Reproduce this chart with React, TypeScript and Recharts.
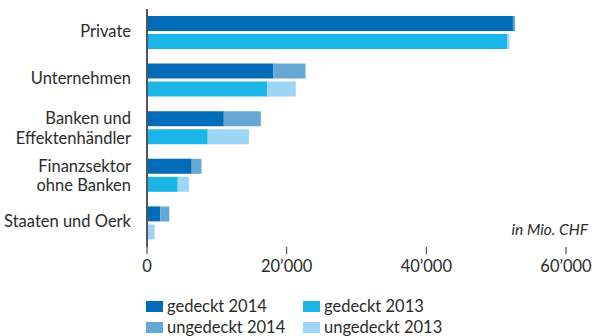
import React from "react";
import { BarChart, Bar, XAxis, YAxis } from "recharts";

const categories = [
  "Private",
  "Unternehmen",
  "Banken und\nEffektenhändler",
  "Finanzsektor\nohne Banken",
  "Staaten und Oerk",
];
const gedeckt2014 = [52400, 18100, 11000, 6400, 1900];
const ungedeckt2014 = [300, 4600, 5300, 1400, 1300];
const gedeckt2013 = [51600, 17200, 8700, 4400, 0];
const ungedeckt2013 = [300, 4100, 5900, 1600, 1100];
const xTicks = [0, 20000, 40000, 60000];

const COLORS = {
  g14: "#006cb7",
  u14: "#66a8d4",
  g13: "#1cb5e8",
  u13: "#9dd5f5",
};

const FONT = "Lato, 'Open Sans', sans-serif";
const TEXT = "#2b2b2b";

const legendItems = [
  { key: "g14", label: "gedeckt 2014" },
  { key: "g13", label: "gedeckt 2013" },
  { key: "u14", label: "ungedeckt 2014" },
  { key: "u13", label: "ungedeckt 2013" },
];

const data = categories.map((name, i) => ({
  name,
  g14: gedeckt2014[i],
  u14: ungedeckt2014[i],
  g13: gedeckt2013[i],
  u13: ungedeckt2013[i],
}));

const formatTick = (v: number) =>
  v === 0 ? "0" : `${Math.floor(v / 1000)}’${String(v % 1000).padStart(3, "0")}`;

const CategoryTick = (props: any) => {
  const { x, y, payload } = props;
  const lines: string[] = String(payload.value).split("\n");
  const lh = 19.5;
  const start = y - ((lines.length - 1) * lh) / 2 + (lines.length > 1 ? 0 : -2);
  return (
    <text
      x={x - 8}
      y={start}
      textAnchor="end"
      fontFamily={FONT}
      fontSize={16.5}
      fill={TEXT}
    >
      {lines.map((l, i) => (
        <tspan key={i} x={x - 8} y={start + i * lh} dy="0.35em">
          {l}
        </tspan>
      ))}
    </text>
  );
};

export default function App() {
  return (
    <div
      style={{
        position: "absolute",
        left: 0,
        top: 0,
        width: 596,
        height: 336,
        background: "#fff",
      }}
    >
      <BarChart
        width={596}
        height={336}
        data={data}
        layout="vertical"
        margin={{ top: 9, right: 30, bottom: 59, left: 0 }}
        barSize={15}
        barGap={3}
      >
        <XAxis
          type="number"
          domain={[0, 60000]}
          ticks={xTicks}
          tickFormatter={formatTick}
          axisLine={false}
          tickLine={{ stroke: "#333", strokeWidth: 1 }}
          tickSize={7}
          tickMargin={6}
          height={30}
          tick={{ fontFamily: FONT, fontSize: 16.5, fill: TEXT }}
          interval={0}
        />
        <YAxis
          type="category"
          dataKey="name"
          width={147}
          axisLine={{ stroke: "#555", strokeWidth: 2 }}
          tickLine={false}
          tick={<CategoryTick />}
          interval={0}
        />
        <Bar dataKey="g14" stackId="a" fill={COLORS.g14} isAnimationActive={false} />
        <Bar dataKey="u14" stackId="a" fill={COLORS.u14} isAnimationActive={false} />
        <Bar dataKey="g13" stackId="b" fill={COLORS.g13} isAnimationActive={false} />
        <Bar dataKey="u13" stackId="b" fill={COLORS.u13} isAnimationActive={false} />
        <text
          x={588}
          y={235}
          textAnchor="end"
          fontFamily={FONT}
          fontSize={15.5}
          fontStyle="italic"
          fill={TEXT}
        >
          in Mio. CHF
        </text>
      </BarChart>
      <div
        style={{
          position: "absolute",
          left: 146,
          top: 297,
          display: "grid",
          gridTemplateColumns: "157px 170px",
          rowGap: 2,
          fontFamily: FONT,
          fontSize: 16.5,
          color: TEXT,
          lineHeight: "19px",
        }}
      >
        {legendItems.map((it) => (
          <div key={it.key} style={{ display: "flex", alignItems: "center" }}>
            <span
              style={{
                display: "inline-block",
                width: 17,
                height: 11,
                background: COLORS[it.key as keyof typeof COLORS],
                marginRight: 4,
              }}
            />
            {it.label}
          </div>
        ))}
      </div>
    </div>
  );
}
